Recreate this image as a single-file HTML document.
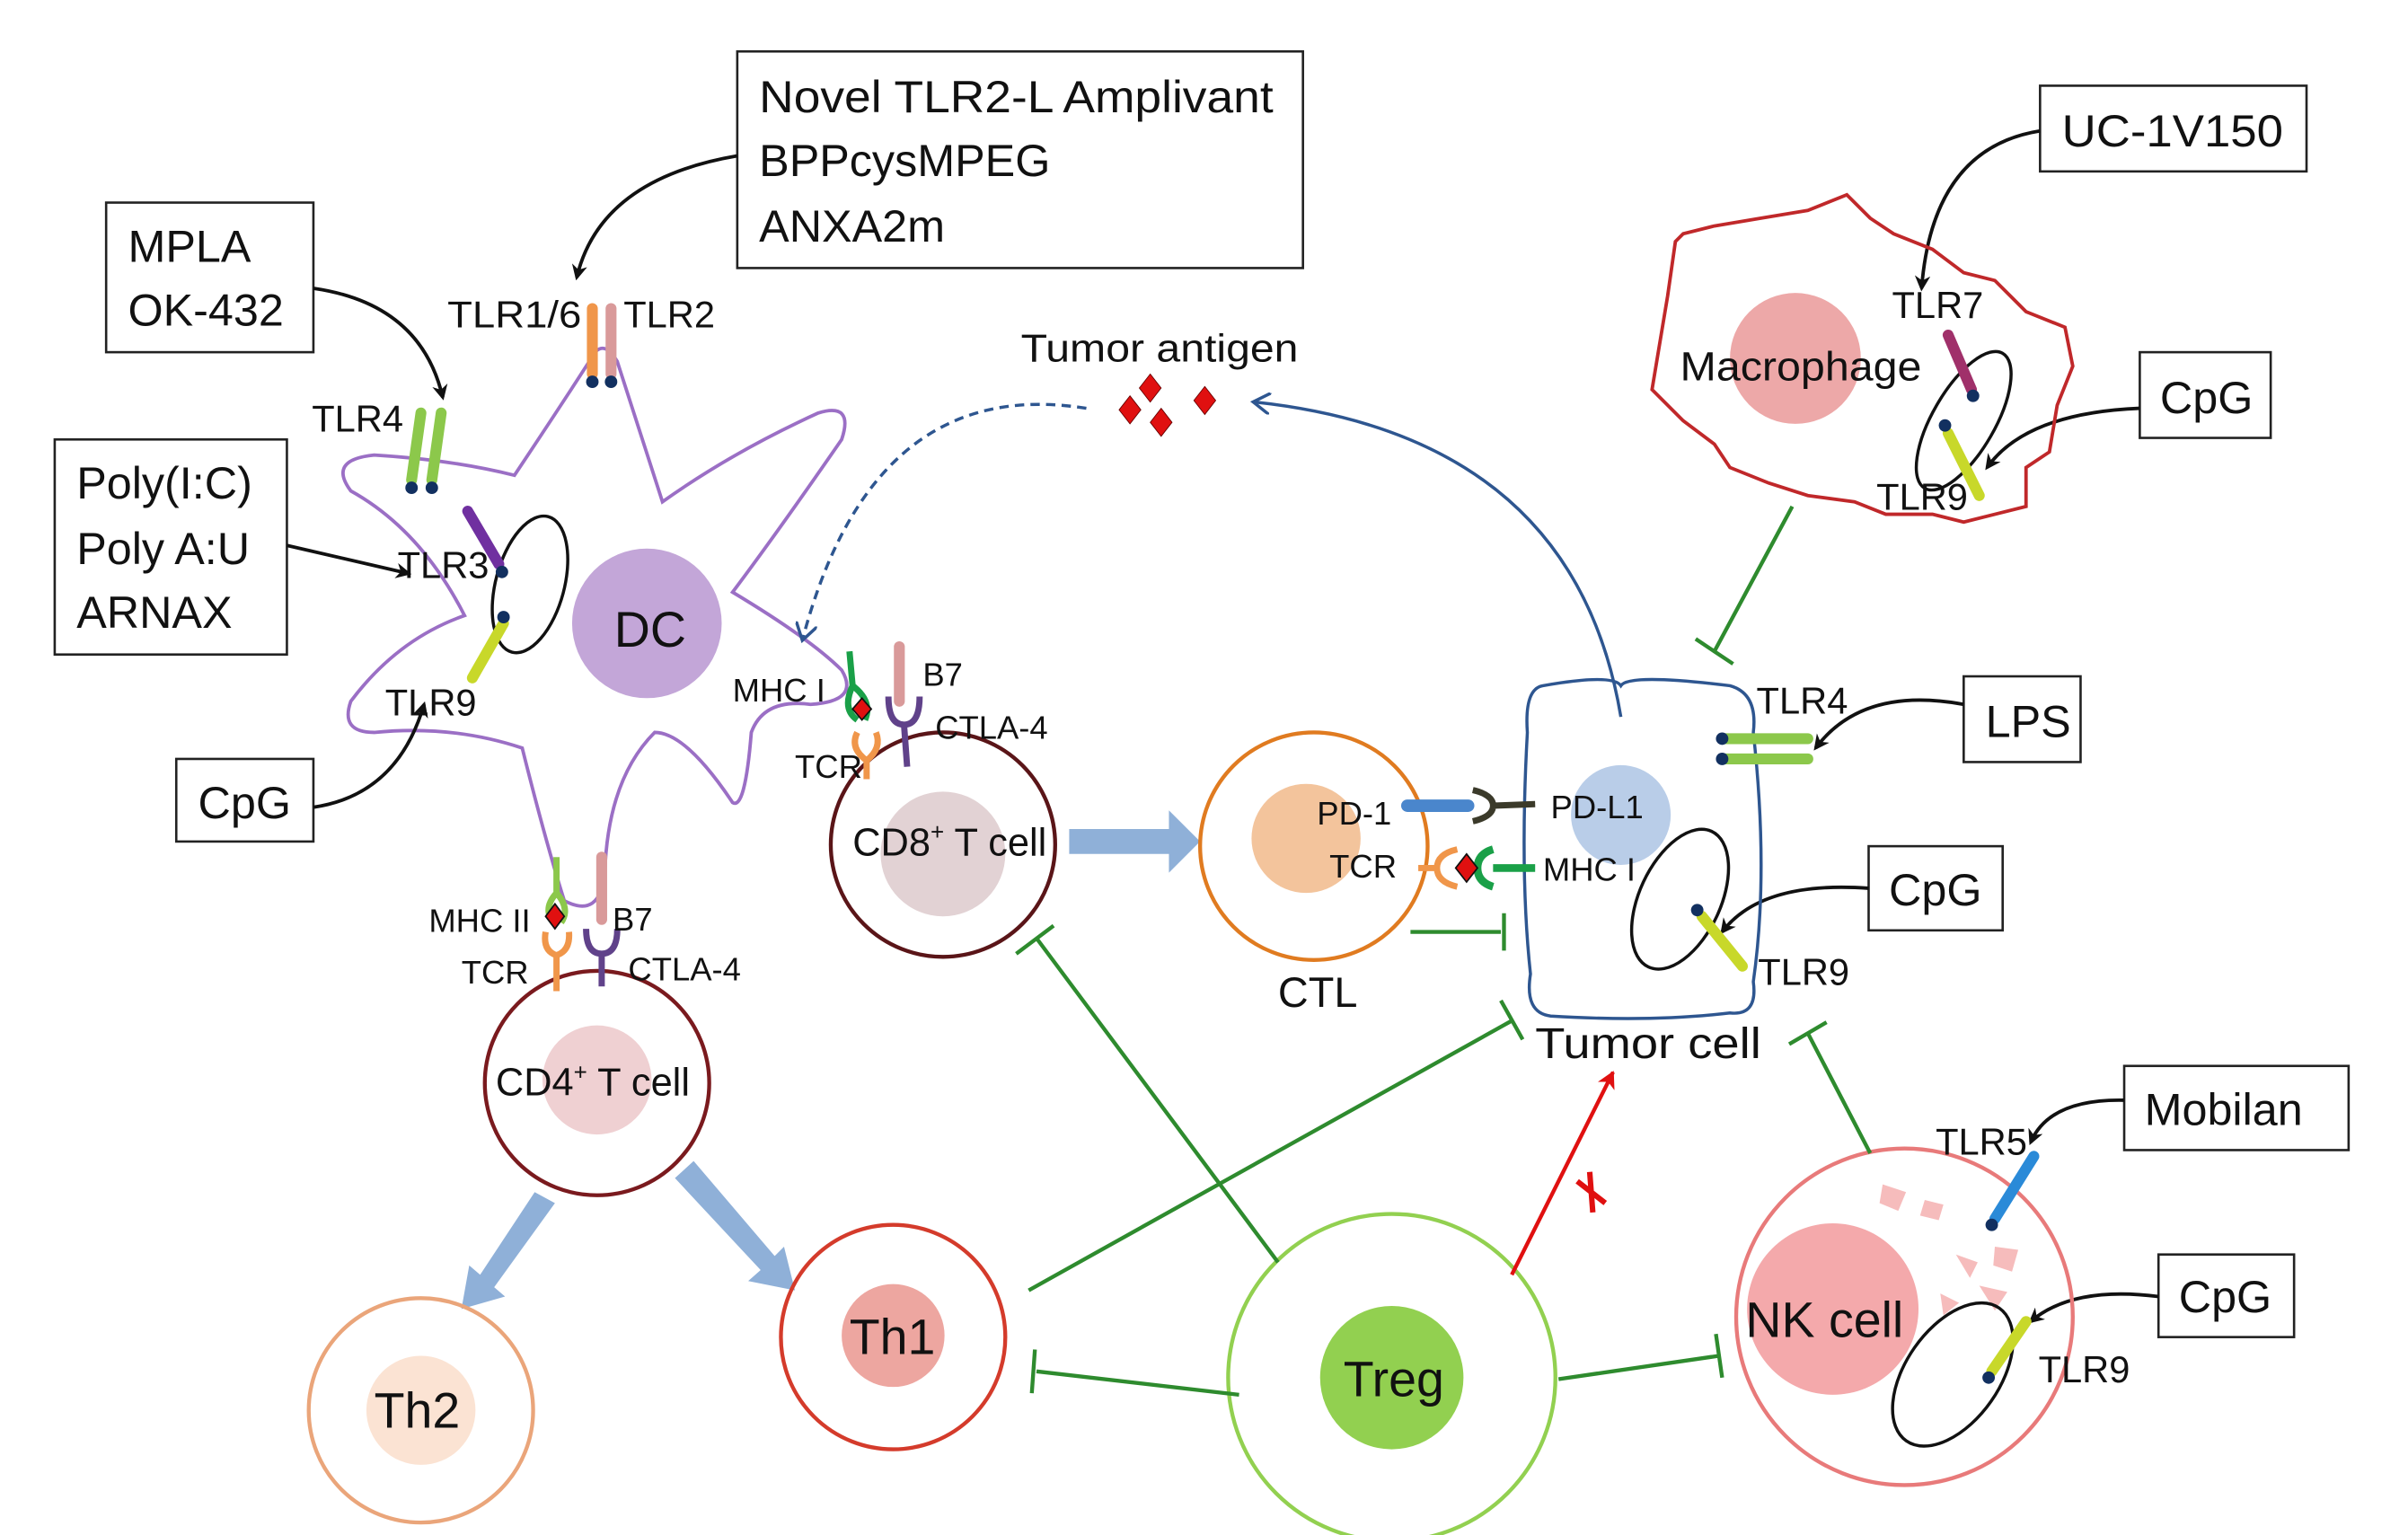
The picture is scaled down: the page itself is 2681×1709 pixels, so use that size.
<!DOCTYPE html>
<html><head><meta charset="utf-8"><style>
html,body{margin:0;padding:0;background:#fff}
svg{display:block}
text{font-family:"Liberation Sans",sans-serif;fill:#111}
</style></head><body>
<svg width="2681" height="1709" viewBox="0 0 1545 985" xmlns="http://www.w3.org/2000/svg">
<defs>
<marker id="ab" markerWidth="10" markerHeight="10" refX="8" refY="5" orient="auto" markerUnits="userSpaceOnUse"><path d="M0,0 L10,5 L0,10 L3,5 z" fill="#111"/></marker>
<marker id="abl" markerWidth="14" markerHeight="14" refX="10" refY="7" orient="auto" markerUnits="userSpaceOnUse"><path d="M0,0 L11,7 L0,14" fill="none" stroke="#2e5690" stroke-width="2"/></marker>
<marker id="ar" markerWidth="12" markerHeight="12" refX="10" refY="6" orient="auto" markerUnits="userSpaceOnUse"><path d="M0,0 L11,6 L0,12 L3,6 z" fill="#e01010"/></marker>
</defs>

<!-- Boxes -->
<g fill="#fff" stroke="#222" stroke-width="1.5">
<rect x="473" y="33" width="363" height="139"/>
<rect x="68" y="130" width="133" height="96"/>
<rect x="35" y="282" width="149" height="138"/>
<rect x="113" y="487" width="88" height="53"/>
<rect x="1309" y="55" width="171" height="55"/>
<rect x="1373" y="226" width="84" height="55"/>
<rect x="1260" y="434" width="75" height="55"/>
<rect x="1199" y="543" width="86" height="54"/>
<rect x="1363" y="684" width="144" height="54"/>
<rect x="1385" y="805" width="87" height="53"/>
</g>
<g font-size="29">
<text x="487" y="72" textLength="330" lengthAdjust="spacingAndGlyphs">Novel TLR2-L Amplivant</text>
<text x="487" y="113">BPPcysMPEG</text>
<text x="487" y="155">ANXA2m</text>
<text x="82" y="168">MPLA</text>
<text x="82" y="209">OK-432</text>
<text x="49" y="320">Poly(I:C)</text>
<text x="49" y="362">Poly A:U</text>
<text x="49" y="403">ARNAX</text>
<text x="127" y="525">CpG</text>
<text x="1323" y="94" textLength="142" lengthAdjust="spacingAndGlyphs">UC-1V150</text>
<text x="1386" y="265">CpG</text>
<text x="1274" y="473">LPS</text>
<text x="1212" y="581">CpG</text>
<text x="1376" y="722">Mobilan</text>
<text x="1398" y="842">CpG</text>
</g>

<!-- DC outline -->
<path d="M378,232 Q386,215 396,232 L425,322 Q470,290 525,265 Q548,258 540,282 Q500,340 470,380 Q520,410 540,430 Q552,450 520,452 Q490,448 482,470 Q478,520 470,515 Q440,470 420,470 Q390,500 388,560 Q385,590 362,578 Q350,540 335,480 Q290,465 240,470 Q218,470 225,450 Q255,410 298,395 Q270,340 225,315 Q210,295 240,292 Q290,295 330,305 Q360,260 378,232 Z" fill="none" stroke="#9b6fc5" stroke-width="2.2"/>
<circle cx="415" cy="400" r="48" fill="#c3a6d8"/>
<text x="394" y="415" font-size="32">DC</text>
<ellipse cx="340" cy="375" rx="22" ry="45" transform="rotate(15 340 375)" fill="none" stroke="#111" stroke-width="2"/>
<line x1="380" y1="198" x2="380" y2="240" stroke="#f0964a" stroke-width="7" stroke-linecap="round"/>
<line x1="392" y1="198" x2="392" y2="240" stroke="#d99a9a" stroke-width="7" stroke-linecap="round"/>
<circle cx="380" cy="245" r="4" fill="#123060"/><circle cx="392" cy="245" r="4" fill="#123060"/>
<line x1="270" y1="265" x2="264" y2="308" stroke="#8cc84b" stroke-width="7" stroke-linecap="round"/>
<line x1="283" y1="265" x2="277" y2="308" stroke="#8cc84b" stroke-width="7" stroke-linecap="round"/>
<circle cx="264" cy="313" r="4" fill="#123060"/><circle cx="277" cy="313" r="4" fill="#123060"/>
<line x1="300" y1="328" x2="320" y2="362" stroke="#7030a0" stroke-width="7" stroke-linecap="round"/>
<circle cx="322" cy="367" r="4" fill="#123060"/>
<line x1="323" y1="400" x2="303" y2="435" stroke="#c8d82a" stroke-width="7" stroke-linecap="round"/>
<circle cx="323" cy="396" r="4" fill="#123060"/>
<g font-size="24">
<text x="287" y="210" textLength="86" lengthAdjust="spacingAndGlyphs">TLR1/6</text><text x="400" y="210">TLR2</text>
<text x="200" y="277">TLR4</text><text x="255" y="371">TLR3</text><text x="247" y="459">TLR9</text>
</g>

<!-- black arrows -->
<g fill="none" stroke="#111" stroke-width="2.2" marker-end="url(#ab)">
<path d="M473,100 Q385,115 370,178"/>
<path d="M201,185 Q270,195 284,255"/>
<path d="M184,350 L262,368"/>
<path d="M201,518 Q255,510 272,452"/>
<path d="M1309,84 Q1240,95 1233,185"/>
<path d="M1373,262 Q1300,265 1275,300"/>
<path d="M1260,452 Q1195,440 1165,480"/>
<path d="M1199,570 Q1130,565 1105,598"/>
<path d="M1363,706 Q1315,705 1303,733"/>
<path d="M1385,832 Q1330,825 1303,848"/>
</g>

<!-- Tumor antigen -->
<text x="655" y="232" font-size="25" textLength="178" lengthAdjust="spacingAndGlyphs">Tumor antigen</text>
<g fill="#e01010" stroke="#600" stroke-width="0.5">
<path d="M738,240 l7,9 l-7,9 l-7,-9z"/><path d="M725,254 l7,9 l-7,9 l-7,-9z"/>
<path d="M745,262 l7,9 l-7,9 l-7,-9z"/><path d="M773,248 l7,9 l-7,9 l-7,-9z"/>
</g>
<path d="M697,262 Q560,240 515,410" fill="none" stroke="#2e5690" stroke-width="2" stroke-dasharray="6,4" marker-end="url(#abl)"/>
<path d="M1040,460 Q1010,280 805,258" fill="none" stroke="#2e5690" stroke-width="2" marker-end="url(#abl)"/>

<!-- Tumor cell (drawn before CTL labels) -->
<path d="M990,440 Q1035,432 1040,440 Q1045,432 1110,440 Q1128,445 1125,470 Q1135,560 1125,630 Q1128,652 1110,650 Q1060,656 995,652 Q978,650 982,625 Q975,560 980,470 Q978,442 990,440 Z" fill="none" stroke="#2e5690" stroke-width="2"/>
<circle cx="1040" cy="523" r="32" fill="#b9cde8"/>
<ellipse cx="1078" cy="577" rx="26" ry="48" transform="rotate(25 1078 577)" fill="none" stroke="#111" stroke-width="2"/>
<line x1="1105" y1="474" x2="1160" y2="474" stroke="#8cc84b" stroke-width="7" stroke-linecap="round"/>
<line x1="1105" y1="487" x2="1160" y2="487" stroke="#8cc84b" stroke-width="7" stroke-linecap="round"/>
<circle cx="1105" cy="474" r="4" fill="#123060"/><circle cx="1105" cy="487" r="4" fill="#123060"/>
<line x1="1092" y1="588" x2="1118" y2="620" stroke="#c8d82a" stroke-width="7" stroke-linecap="round"/>
<circle cx="1089" cy="584" r="4" fill="#123060"/>
<g font-size="24"><text x="1127" y="458">TLR4</text><text x="1128" y="632">TLR9</text></g>
<text x="985" y="679" font-size="28" textLength="145" lengthAdjust="spacingAndGlyphs">Tumor cell</text>

<!-- CD8 T cell -->
<circle cx="605" cy="542" r="72" fill="none" stroke="#5a1518" stroke-width="2.5"/>
<circle cx="605" cy="548" r="40" fill="#e2d2d4"/>
<text x="547" y="549" font-size="25">CD8<tspan font-size="15" dy="-10">+</tspan><tspan dy="10"> T cell</tspan></text>
<path d="M545,418 L547,440 Q540,455 550,462 M547,440 Q560,450 555,462" fill="none" stroke="#1aa048" stroke-width="4"/>
<path d="M550,470 Q545,480 556,488 Q566,480 562,470 M556,488 L556,500" fill="none" stroke="#f0964a" stroke-width="4"/>
<path d="M553,448 l6,7 l-6,7 l-6,-7z" fill="#e01010" stroke="#111" stroke-width="1"/>
<line x1="577" y1="415" x2="577" y2="450" stroke="#d99a9a" stroke-width="7" stroke-linecap="round"/>
<path d="M570,447 Q570,465 580,465 Q590,465 590,447 M580,465 L582,492" fill="none" stroke="#60428a" stroke-width="4"/>
<g font-size="21"><text x="470" y="450">MHC I</text><text x="592" y="440">B7</text><text x="600" y="474">CTLA-4</text><text x="510" y="499">TCR</text></g>

<g fill="#8fb0d8">
<path d="M686,532 L750,532 L750,520 L770,540 L750,560 L750,548 L686,548 z"/>
<path d="M343,765 L356,772 L317,826 L324,832 L296,840 L301,812 L308,818 z"/>
<path d="M445,745 L433,756 L488,815 L480,822 L510,828 L503,800 L497,806 z"/>
</g>

<!-- CTL -->
<circle cx="843" cy="543" r="73" fill="none" stroke="#e07b20" stroke-width="2.5"/>
<circle cx="838" cy="538" r="35" fill="#f3c49c"/>
<text x="820" y="646" font-size="27">CTL</text>
<line x1="903" y1="517" x2="942" y2="517" stroke="#4a86cc" stroke-width="8" stroke-linecap="round"/>
<path d="M945,507 Q958,510 958,517 Q958,524 945,527 M958,517 L985,516" fill="none" stroke="#3b3a2a" stroke-width="4"/>
<path d="M910,557 L922,557 M935,545 Q922,548 922,557 Q922,566 935,569" fill="none" stroke="#f0964a" stroke-width="4"/>
<path d="M958,545 Q948,548 948,557 Q948,566 958,569 M958,557 L985,557" fill="none" stroke="#1aa048" stroke-width="5"/>
<path d="M941,548 l7,9 l-7,9 l-7,-9z" fill="#e01010" stroke="#111" stroke-width="1"/>
<g font-size="21"><text x="845" y="529">PD-1</text><text x="853" y="563">TCR</text><text x="995" y="525">PD-L1</text><text x="990" y="565">MHC I</text></g>

<!-- Macrophage -->
<path d="M1075,155 L1080,150 L1100,145 L1130,140 L1160,135 L1185,125 L1200,140 L1215,150 L1240,160 L1260,175 L1280,180 L1290,190 L1300,200 L1325,210 L1330,235 L1320,260 L1315,290 L1300,300 L1300,325 L1280,330 L1260,335 L1240,330 L1210,330 L1190,322 L1160,318 L1135,310 L1110,300 L1100,285 L1080,270 L1060,250 L1065,220 L1070,190 Z" fill="none" stroke="#c0282a" stroke-width="2.2"/>
<circle cx="1152" cy="230" r="42" fill="#eda8a8"/>
<text x="1078" y="244" font-size="26" textLength="155" lengthAdjust="spacingAndGlyphs">Macrophage</text>
<ellipse cx="1260" cy="270" rx="20" ry="50" transform="rotate(30 1260 270)" fill="none" stroke="#111" stroke-width="2"/>
<line x1="1250" y1="215" x2="1265" y2="250" stroke="#a0306a" stroke-width="7" stroke-linecap="round"/>
<circle cx="1266" cy="254" r="4" fill="#123060"/>
<line x1="1250" y1="278" x2="1270" y2="318" stroke="#c8d82a" stroke-width="7" stroke-linecap="round"/>
<circle cx="1248" cy="273" r="4" fill="#123060"/>
<g font-size="24"><text x="1214" y="204">TLR7</text><text x="1204" y="327">TLR9</text></g>

<!-- CD4 -->
<circle cx="383" cy="695" r="72" fill="none" stroke="#7a1a1e" stroke-width="2.5"/>
<circle cx="383" cy="693" r="35" fill="#efd0d2"/>
<text x="318" y="703" font-size="25">CD4<tspan font-size="15" dy="-10">+</tspan><tspan dy="10"> T cell</tspan></text>
<path d="M357,550 L357,573 Q348,583 355,592 M357,573 Q366,583 360,592" fill="none" stroke="#8cc84b" stroke-width="4"/>
<path d="M350,598 Q348,610 357,613 Q366,610 365,598 M357,613 L357,636" fill="none" stroke="#f0964a" stroke-width="4"/>
<path d="M356,580 l6,8 l-6,8 l-6,-8z" fill="#e01010" stroke="#111" stroke-width="1"/>
<line x1="386" y1="550" x2="386" y2="590" stroke="#d99a9a" stroke-width="7" stroke-linecap="round"/>
<path d="M376,596 Q376,612 386,612 Q396,612 396,596 M386,612 L386,633" fill="none" stroke="#60428a" stroke-width="4"/>
<g font-size="21"><text x="275" y="598">MHC II</text><text x="393" y="597">B7</text><text x="296" y="631">TCR</text><text x="403" y="629">CTLA-4</text></g>

<!-- Th2 Th1 Treg NK -->
<circle cx="270" cy="905" r="72" fill="none" stroke="#eaa57a" stroke-width="2.5"/>
<circle cx="270" cy="905" r="35" fill="#fbe3d3"/>
<text x="240" y="916" font-size="32">Th2</text>
<circle cx="573" cy="858" r="72" fill="none" stroke="#d43b2b" stroke-width="2.5"/>
<circle cx="573" cy="857" r="33" fill="#eda6a0"/>
<text x="545" y="869" font-size="32">Th1</text>
<circle cx="893" cy="884" r="105" fill="none" stroke="#92d050" stroke-width="2.5"/>
<circle cx="893" cy="884" r="46" fill="#92d050"/>
<text x="862" y="896" font-size="32">Treg</text>
<circle cx="1222" cy="845" r="108" fill="none" stroke="#e87a7a" stroke-width="2.5"/>
<circle cx="1176" cy="840" r="55" fill="#f4a9ab"/>
<g fill="#f6bcbc"><path d="M1208,760 l15,5 l-5,12 l-12,-5z"/><path d="M1235,770 l12,3 l-3,10 l-12,-3z"/><path d="M1280,800 l15,2 l-4,14 l-12,-4z"/><path d="M1255,805 l14,5 l-5,10z"/><path d="M1270,825 l18,4 l-8,12z"/><path d="M1245,830 l12,6 l-10,8z"/></g>
<text x="1120" y="858" font-size="32">NK cell</text>
<ellipse cx="1253" cy="882" rx="30" ry="52" transform="rotate(35 1253 882)" fill="none" stroke="#111" stroke-width="2"/>
<line x1="1280" y1="782" x2="1305" y2="742" stroke="#2a8ad8" stroke-width="7" stroke-linecap="round"/>
<circle cx="1278" cy="786" r="4" fill="#123060"/>
<line x1="1300" y1="848" x2="1278" y2="880" stroke="#c8d82a" stroke-width="7" stroke-linecap="round"/>
<circle cx="1276" cy="884" r="4" fill="#123060"/>
<g font-size="24"><text x="1242" y="741">TLR5</text><text x="1308" y="887">TLR9</text></g>

<!-- green inhibition -->
<g stroke="#2e8b2e" stroke-width="2.5" fill="none">
<path d="M1150,325 L1100,418 M1088,410 L1112,426"/>
<path d="M905,598 L963,598 M965,586 L965,610"/>
<path d="M820,810 L665,602 M652,612 L676,594"/>
<path d="M660,828 L970,655 M963,642 L977,667"/>
<path d="M795,895 L665,880 M664,866 L662,894"/>
<path d="M1000,885 L1103,870 M1101,856 L1105,884"/>
<path d="M1200,740 L1160,663 M1148,670 L1172,656"/>
</g>
<path d="M970,818 L1035,688" stroke="#e01010" stroke-width="2.5" fill="none" marker-end="url(#ar)"/>
<path d="M1012,758 L1030,772 M1020,752 L1022,778" stroke="#e01010" stroke-width="3.5"/>
</svg>
</body></html>
